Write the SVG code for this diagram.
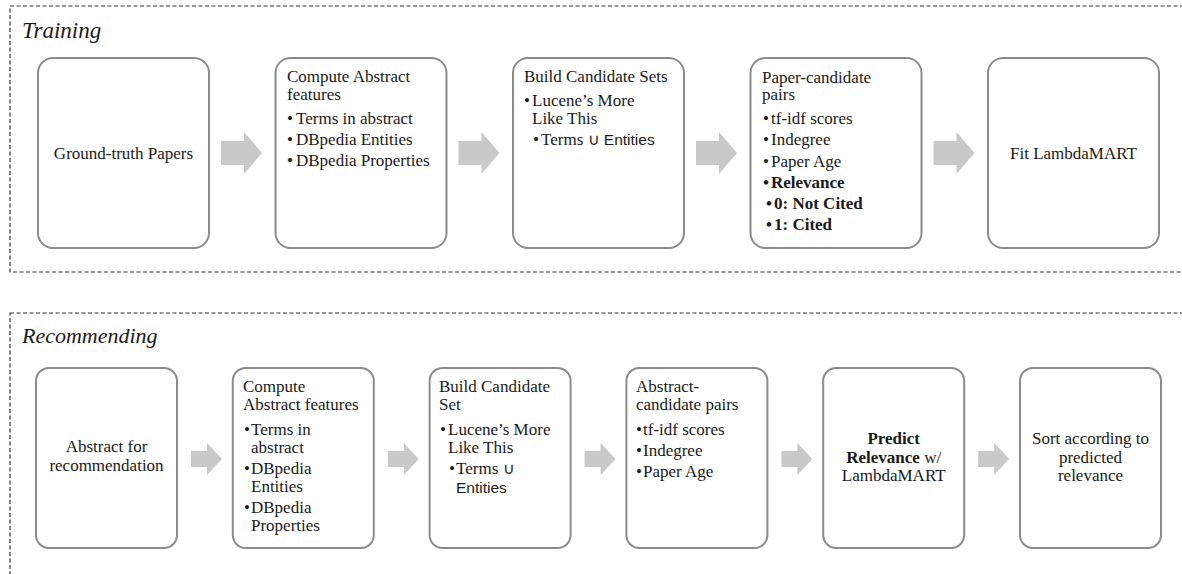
<svg xmlns="http://www.w3.org/2000/svg" width="1182" height="574" viewBox="0 0 1182 574">
<style>
.frame{fill:none;stroke:#333;stroke-width:1.2;stroke-dasharray:4 2.5}
.box{fill:#fff;stroke:#8c8c8c;stroke-width:2}
.t{font-family:'Liberation Serif','Times New Roman',Tinos,'Noto Serif','DejaVu Serif',FreeSerif,'Nimbus Roman',Times,serif;font-size:17px;fill:#1a1a1a}
.c{text-anchor:middle}
.b{font-weight:bold}
.title{font-family:'Liberation Serif','Times New Roman',Tinos,'Noto Serif','DejaVu Serif',FreeSerif,'Nimbus Roman',Times,serif;font-size:23px;font-style:italic;fill:#1a1a1a}
.s{font-family:'Liberation Sans',Arial,sans-serif;font-size:15.5px}
.arrow{fill:#c9c9c9}
</style>
<rect class="frame" x="10" y="6" width="1190" height="266"/>
<rect class="frame" x="10" y="313" width="1190" height="290"/>
<text class="title" x="22" y="38">Training</text>
<text class="title" x="22" y="343" style="font-size:22px">Recommending</text>

<g id="t1"><rect class="box" x="38" y="58" width="171" height="190" rx="15"/>
<text class="t c" x="123.5" y="159">Ground-truth Papers</text></g>

<g id="t2"><rect class="box" x="275.5" y="58" width="171" height="190" rx="15"/>
<text class="t" x="287" y="82">Compute Abstract</text>
<text class="t" x="287" y="100">features</text>
<text class="t" x="287" y="124">•</text><text class="t" x="296" y="124">Terms in abstract</text>
<text class="t" x="287" y="145">•</text><text class="t" x="296" y="145">DBpedia Entities</text>
<text class="t" x="287" y="166">•</text><text class="t" x="296" y="166">DBpedia Properties</text></g>

<g id="t3"><rect class="box" x="513" y="58" width="171" height="190" rx="15"/>
<text class="t" x="524" y="82">Build Candidate Sets</text>
<text class="t" x="524" y="106">•</text><text class="t" x="532" y="106">Lucene’s More</text>
<text class="t" x="532" y="124">Like This</text>
<text class="t" x="533" y="145">•</text><text class="t" x="541" y="145">Terms <tspan class="s">∪ Entities</tspan></text></g>

<g id="t4"><rect class="box" x="750.5" y="58" width="171" height="190" rx="15"/>
<text class="t" x="762" y="83">Paper-candidate</text>
<text class="t" x="762" y="100">pairs</text>
<text class="t" x="763" y="124">•</text><text class="t" x="771" y="124">tf-idf scores</text>
<text class="t" x="763" y="145">•</text><text class="t" x="771" y="145">Indegree</text>
<text class="t" x="763" y="167">•</text><text class="t" x="771" y="167">Paper Age</text>
<text class="t b" x="763" y="188">•</text><text class="t b" x="771" y="188">Relevance</text>
<text class="t b" x="766" y="209">•</text><text class="t b" x="774" y="209">0: Not Cited</text>
<text class="t b" x="766" y="230">•</text><text class="t b" x="774" y="230">1: Cited</text></g>

<g id="t5"><rect class="box" x="988" y="58" width="171" height="190" rx="15"/>
<text class="t c" x="1073.5" y="159">Fit LambdaMART</text></g>

<g id="r1"><rect class="box" x="36" y="368" width="141" height="180" rx="13"/>
<text class="t c" x="106.5" y="452">Abstract for</text>
<text class="t c" x="106.5" y="471">recommendation</text></g>

<g id="r2"><rect class="box" x="232.8" y="368" width="141" height="180" rx="13"/>
<text class="t" x="243" y="392">Compute</text>
<text class="t" x="243" y="410">Abstract features</text>
<text class="t" x="244" y="435">•</text><text class="t" x="251" y="435">Terms in</text>
<text class="t" x="251" y="453">abstract</text>
<text class="t" x="244" y="474">•</text><text class="t" x="251" y="474">DBpedia</text>
<text class="t" x="251" y="492">Entities</text>
<text class="t" x="244" y="513">•</text><text class="t" x="251" y="513">DBpedia</text>
<text class="t" x="251" y="531">Properties</text></g>

<g id="r3"><rect class="box" x="429.6" y="368" width="141" height="180" rx="13"/>
<text class="t" x="439" y="392">Build Candidate</text>
<text class="t" x="439" y="410">Set</text>
<text class="t" x="440" y="435">•</text><text class="t" x="448" y="435">Lucene’s More</text>
<text class="t" x="448" y="453">Like This</text>
<text class="t" x="449" y="474">•</text><text class="t" x="456" y="474">Terms <tspan class="s">∪</tspan></text>
<text class="t s" x="456" y="493">Entities</text></g>

<g id="r4"><rect class="box" x="626.4" y="368" width="141" height="180" rx="13"/>
<text class="t" x="636" y="392">Abstract-</text>
<text class="t" x="636" y="410">candidate pairs</text>
<text class="t" x="636" y="435">•</text><text class="t" x="643" y="435">tf-idf scores</text>
<text class="t" x="636" y="456">•</text><text class="t" x="643" y="456">Indegree</text>
<text class="t" x="636" y="477">•</text><text class="t" x="643" y="477">Paper Age</text></g>

<g id="r5"><rect class="box" x="823.2" y="368" width="141" height="180" rx="13"/>
<text class="t c b" x="893.7" y="444">Predict</text>
<text class="t c" x="893.7" y="463"><tspan class="b">Relevance</tspan> w/</text>
<text class="t c" x="893.7" y="481">LambdaMART</text></g>

<g id="r6"><rect class="box" x="1020" y="368" width="141" height="180" rx="13"/>
<text class="t c" x="1090.5" y="444">Sort according to</text>
<text class="t c" x="1090.5" y="463">predicted</text>
<text class="t c" x="1090.5" y="481">relevance</text></g>

<g id="connectors">
<polygon class="arrow" points="221,141 244,141 244,132 262,153 244,174 244,165 221,165"/>
<polygon class="arrow" points="458.5,141 481.5,141 481.5,132 499.5,153 481.5,174 481.5,165 458.5,165"/>
<polygon class="arrow" points="696,141 719,141 719,132 737,153 719,174 719,165 696,165"/>
<polygon class="arrow" points="933.5,141 956.5,141 956.5,132 974.5,153 956.5,174 956.5,165 933.5,165"/>
<polygon class="arrow" points="191,451 207,451 207,443 222,459 207,475 207,467 191,467"/>
<polygon class="arrow" points="387.8,451 403.8,451 403.8,443 418.8,459 403.8,475 403.8,467 387.8,467"/>
<polygon class="arrow" points="584.6,451 600.6,451 600.6,443 615.6,459 600.6,475 600.6,467 584.6,467"/>
<polygon class="arrow" points="781.4,451 797.4,451 797.4,443 812.4,459 797.4,475 797.4,467 781.4,467"/>
<polygon class="arrow" points="978.2,451 994.2,451 994.2,443 1009.2,459 994.2,475 994.2,467 978.2,467"/>
</g>
</svg>
